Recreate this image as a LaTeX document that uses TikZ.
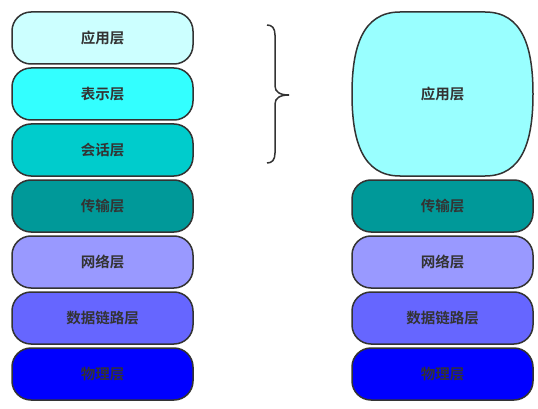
\documentclass[tikz,border=0pt]{standalone}
\usepackage{fontspec}
\newfontfamily\cjk{Noto Sans CJK SC}[BoldFont={Noto Sans CJK SC Bold}]
\definecolor{strk}{HTML}{333333}
\definecolor{cA}{HTML}{CCFFFF}
\definecolor{cB}{HTML}{33FFFF}
\definecolor{cC}{HTML}{00CCCC}
\definecolor{cD}{HTML}{009999}
\definecolor{cE}{HTML}{9999FF}
\definecolor{cF}{HTML}{6666FF}
\definecolor{cG}{HTML}{0000FF}
\definecolor{cH}{HTML}{99FFFF}
\tikzset{
  layer/.style={draw=strk, line width=1.5pt, rounded corners=19pt, minimum width=181pt, minimum height=52pt, inner sep=0pt, text=strk, font=\cjk\bfseries\fontsize{14.5pt}{16pt}\selectfont},
  lbl/.style={text=strk, font=\cjk\bfseries\fontsize{14.5pt}{16pt}\selectfont},
  brace/.style={draw=strk, line width=1.5pt}
}
\begin{document}
\begin{tikzpicture}[x=1pt,y=-1pt]
\useasboundingbox (0,0) rectangle (538,409);
% left column
\node[layer, fill=cA] (l7) at (102.5,38) {应用层};
\node[layer, fill=cB] (l6) at (102.5,94) {表示层};
\node[layer, fill=cC] (l5) at (102.5,150) {会话层};
\node[layer, fill=cD] (l4) at (102.5,206) {传输层};
\node[layer, fill=cE] (l3) at (102.5,262) {网络层};
\node[layer, fill=cF] (l2) at (102.5,318) {数据链路层};
\node[layer, fill=cG] (l1) at (102.5,374) {物理层};
% right column
\draw[draw=strk, line width=1.5pt, fill=cH]
  (400,12) -- (485,12)
  .. controls (523,12) and (533,48) .. (533,94)
  .. controls (533,140) and (523,176) .. (485,176)
  -- (400,176)
  .. controls (362,176) and (352,140) .. (352,94)
  .. controls (352,48) and (362,12) .. (400,12) -- cycle;
\node[lbl] (r5) at (442.5,94) {应用层};
\node[layer, fill=cD] (r4) at (442.5,206) {传输层};
\node[layer, fill=cE] (r3) at (442.5,262) {网络层};
\node[layer, fill=cF] (r2) at (442.5,318) {数据链路层};
\node[layer, fill=cG] (r1) at (442.5,374) {物理层};
% brace
\draw[brace] (267,25) .. controls (272,25) and (275,28) .. (275,35)
  -- (275,86) .. controls (275,92) and (280,95) .. (289,95)
  .. controls (280,95) and (275,98) .. (275,104)
  -- (275,153) .. controls (275,160) and (272,163) .. (267,163);
\end{tikzpicture}
\end{document}
